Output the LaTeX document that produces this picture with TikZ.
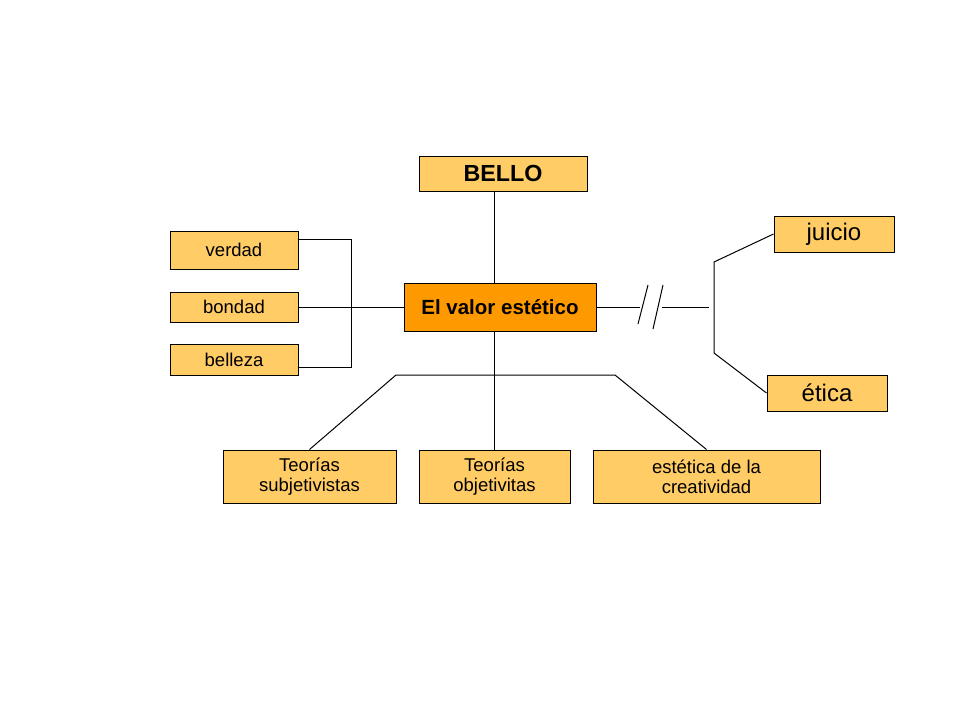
\documentclass[tikz,border=0pt]{standalone}
\usepackage{fontspec}
\setmainfont{Liberation Sans}
\definecolor{boxfill}{RGB}{255,204,102}
\definecolor{mainfill}{RGB}{255,153,0}

\begin{document}
\begin{tikzpicture}[x=1pt,y=-1pt,
    box/.style={draw,line width=1pt,fill=boxfill,inner sep=0pt,align=center,
                font=\fontsize{18.5}{20}\selectfont},
    link/.style={line width=1pt}]
                    \useasboundingbox (0,0) rectangle (960,720);

                    \node[box,minimum width=168,minimum height=35,font=\bfseries\fontsize{23.3}{26}\selectfont] (bello) at (503,173.5) {BELLO};
                    \node[box,minimum width=128,minimum height=38] (verdad) at (234,250) {verdad};
                    \node[box,minimum width=128,minimum height=30] (bondad) at (234,307) {bondad};
                    \node[box,minimum width=128,minimum height=31] (belleza) at (234,359.5) {belleza};
                    \node[box,fill=mainfill,minimum width=192,minimum height=48,font=\bfseries\fontsize{20.5}{23}\selectfont] (valor) at (500,307.5) {El valor est\'etico};
                    \node[box,minimum width=120,minimum height=36,font=\fontsize{24}{26}\selectfont] (juicio) at (834,234) {juicio};
                    \node[box,minimum width=120,minimum height=36,font=\fontsize{24}{26}\selectfont] (etica) at (827,393) {\'etica};
                    \node[box,minimum width=173,minimum height=53] (subj) at (309.5,476.5) {Teor\'ias\\subjetivistas};
                    \node[box,minimum width=151,minimum height=53] (obj) at (494.5,476.5) {Teor\'ias\\objetivitas};
                    \node[box,minimum width=227,minimum height=53] (crea) at (706.5,476.5) {est\'etica de la\\creatividad};

                    \coordinate (gapL) at (640,307);
                    \coordinate (gapR) at (662,307);
                    \coordinate (rjoin) at (709,307);

                    \draw[link] (bello.south -| obj) -- (valor.north -| obj);
                    \draw[link] (valor.south -| obj) -- (obj.north);
                    \draw[link] (verdad.east |- 0,239) -| (351,367) -- (belleza.east |- 0,367);
                    \draw[link] (bondad.east) -- (valor.west |- bondad);

                    \draw[link] (valor.east |- gapL) -- (gapL);
                    \draw[link] (638,324) -- (648,285) (653,329) -- (663,285);
                    \draw[link] (gapR) -- (rjoin);
                    \draw[link] (juicio.west) -- (714,262) -- (714,353) -- (etica.west);

                    \draw[link] (subj.north) -- (396,375) -- (615,375) -- (crea.north);

                \end{tikzpicture}
\end{document}
